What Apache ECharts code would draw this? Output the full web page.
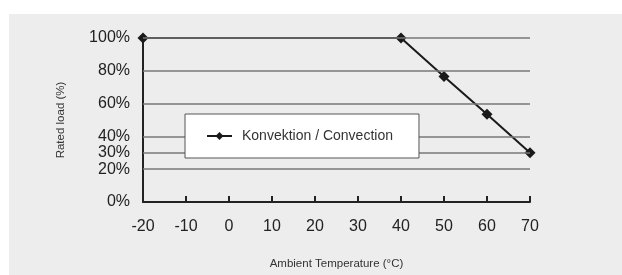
<!DOCTYPE html>
<html>
<head>
<meta charset="utf-8">
<script src="https://cdn.jsdelivr.net/npm/echarts@6/dist/echarts.min.js"></script>
<style>
  html, body { margin: 0; padding: 0; background: #fff; }
  #container { width: 622px; height: 275px; }
</style>
</head>
<body>
<div id="container"></div>
<script>
  var temps = [-20, 40, 50, 60, 70];
  var loads = [100, 100, 76.5, 53.5, 30];
  var yLabels = [0, 20, 30, 40, 60, 80, 100];
  var gridValues = [20, 30, 40, 60, 80, 100];
  var seriesName = 'Konvektion / Convection';

  var dom = document.getElementById('container');
  var myChart = echarts.init(dom, null, { renderer: 'canvas' });

  var option = {
    animation: false,
    textStyle: { fontFamily: 'Liberation Sans, Arial, sans-serif' },
    graphic: [
      {
        type: 'rect',
        z: -10,
        shape: { x: 9, y: 14, width: 613, height: 261 },
        style: { fill: '#ededed' }
      }
    ],
    grid: { left: 143, right: 92, top: 38, bottom: 73 },
    legend: {
      z: 20,
      left: 185,
      top: 114,
      orient: 'horizontal',
      backgroundColor: '#fff',
      borderColor: '#555',
      borderWidth: 1,
      borderRadius: 0,
      padding: [15, 26, 15, 21],
      itemWidth: 25,
      itemHeight: 10,
      itemGap: 0,
      textStyle: { fontSize: 14, color: '#333', padding: [0, 0, 0, 5] },
      data: [seriesName]
    },
    xAxis: {
      type: 'value',
      min: -20,
      max: 70,
      interval: 10,
      name: 'Ambient Temperature (°C)',
      nameLocation: 'middle',
      nameGap: 56,
      nameTextStyle: { fontSize: 11.5, color: '#333' },
      axisLine: { onZero: false, lineStyle: { color: '#222', width: 2 } },
      axisTick: { inside: true, length: 6, lineStyle: { color: '#222', width: 2 } },
      axisLabel: { fontSize: 16, color: '#222', margin: 17 },
      splitLine: { show: false }
    },
    yAxis: {
      type: 'value',
      min: 0,
      max: 100,
      interval: 10,
      name: 'Rated load (%)',
      nameLocation: 'middle',
      nameGap: 76,
      nameTextStyle: { fontSize: 11.5, color: '#333' },
      axisLine: { show: true, onZero: false, lineStyle: { color: '#222', width: 2 } },
      axisTick: { show: false },
      axisLabel: {
        fontSize: 16,
        color: '#222',
        margin: 13,
        formatter: function (v) {
          return yLabels.indexOf(v) >= 0 ? v + '%' : '';
        }
      },
      splitLine: { show: false }
    },
    series: [
      {
        type: 'line',
        name: 'grid',
        data: [],
        z: 1,
        silent: true,
        markLine: {
          silent: true,
          symbol: 'none',
          label: { show: false },
          lineStyle: { color: '#777', width: 1.5, type: 'solid' },
          data: gridValues.map(function (v) { return { yAxis: v }; })
        }
      },
      {
        type: 'line',
        name: seriesName,
        z: 3,
        data: temps.map(function (t, i) { return [t, loads[i]]; }),
        symbol: 'diamond',
        symbolSize: 11,
        showAllSymbol: true,
        itemStyle: { color: '#1a1a1a' },
        lineStyle: { color: '#1a1a1a', width: 2 }
      }
    ]
  };

  myChart.setOption(option);
  window.addEventListener('resize', myChart.resize);
</script>
</body>
</html>
